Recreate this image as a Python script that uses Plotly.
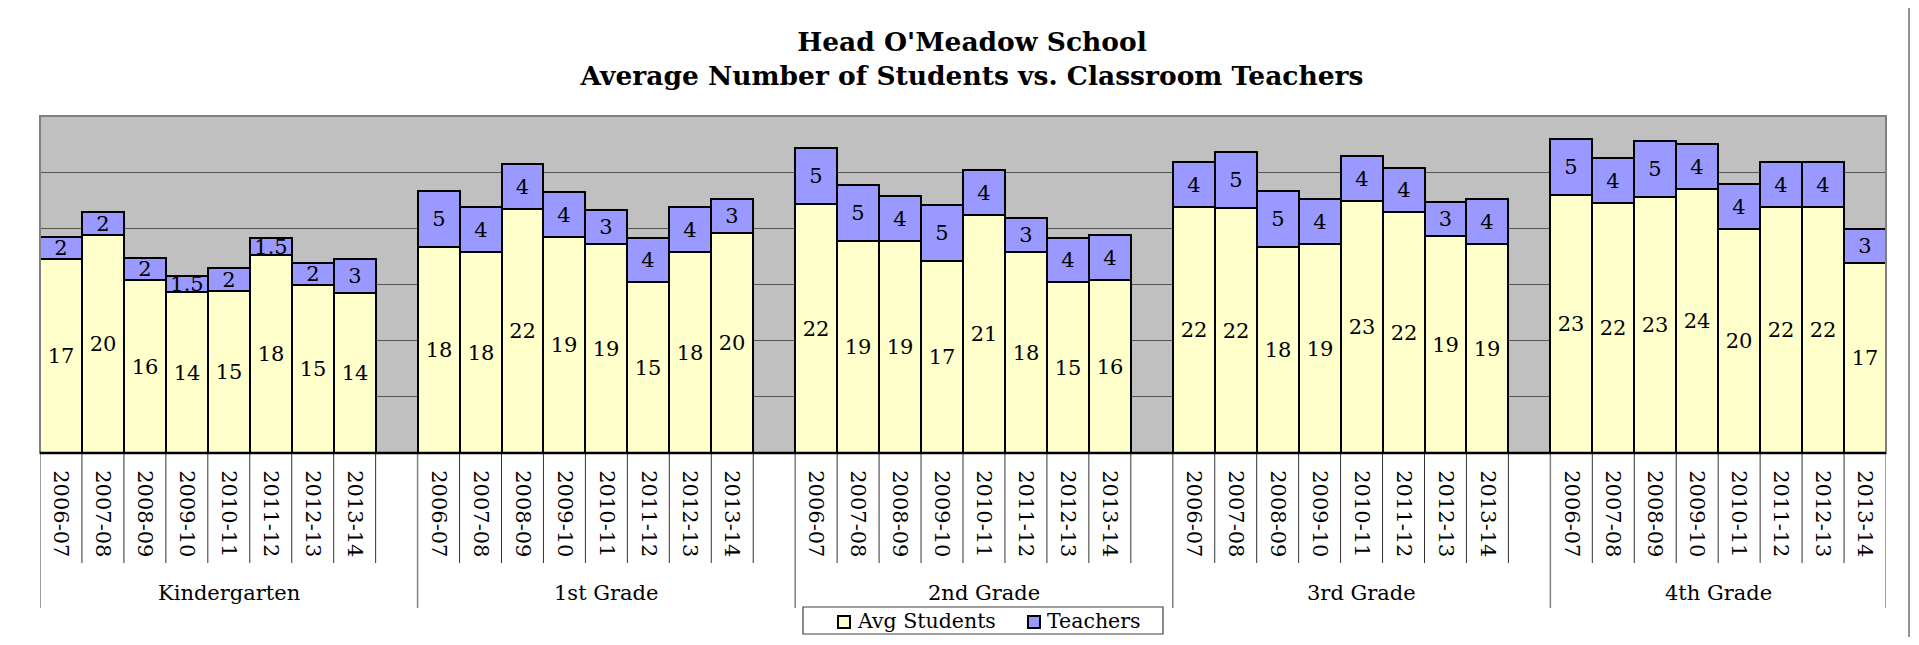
import plotly.graph_objects as go

# ---------------- data ----------------
groups = ["Kindergarten", "1st Grade", "2nd Grade", "3rd Grade", "4th Grade"]
years = ["2006-07", "2007-08", "2008-09", "2009-10", "2010-11", "2011-12", "2012-13", "2013-14"]

kinder_students = [17.23, 19.45, 15.38, 14.29, 14.43, 17.61, 14.94, 14.26]
grade1_students = [18.35, 17.91, 21.71, 19.25, 18.59, 15.18, 17.91, 19.60]
grade2_students = [22.16, 18.89, 18.89, 17.11, 21.18, 17.91, 15.18, 15.38]
grade3_students = [21.92, 21.77, 18.35, 18.65, 22.42, 21.41, 19.31, 18.65]
grade4_students = [22.96, 22.22, 22.75, 23.49, 19.93, 21.92, 21.92, 16.93]

kinder_student_labels = ["17", "20", "16", "14", "15", "18", "15", "14"]
grade1_student_labels = ["18", "18", "22", "19", "19", "15", "18", "20"]
grade2_student_labels = ["22", "19", "19", "17", "21", "18", "15", "16"]
grade3_student_labels = ["22", "22", "18", "19", "23", "22", "19", "19"]
grade4_student_labels = ["23", "22", "23", "24", "20", "22", "22", "17"]

kinder_teachers = [2, 2, 2, 1.5, 2, 1.5, 2, 3]
grade1_teachers = [5, 4, 4, 4, 3, 4, 4, 3]
grade2_teachers = [5, 5, 4, 5, 4, 3, 4, 4]
grade3_teachers = [4, 5, 5, 4, 4, 4, 3, 4]
grade4_teachers = [5, 4, 5, 4, 4, 4, 4, 3]

series_names = ["Avg Students", "Teachers"]
series_colors = ["#FFFFCC", "#9999FF"]

student_series = [kinder_students, grade1_students, grade2_students, grade3_students, grade4_students]
student_label_series = [kinder_student_labels, grade1_student_labels, grade2_student_labels,
                        grade3_student_labels, grade4_student_labels]
teacher_series = [kinder_teachers, grade1_teachers, grade2_teachers, grade3_teachers, grade4_teachers]

# ---------------- layout geometry (screen pixels) ----------------
OFF = 8                        # default page body margin
W, H = 1919 - 2 * OFF, 645 - 2 * OFF
PL, PR, PT, PB = 40, 1886, 116, 453          # plot area edges on screen
pw, ph = PR - PL, PB - PT
def px_x(p):
    return (p - PL) / pw
def px_y(p):
    return (PB - p) / ph

FONT = "DejaVu Serif"
slots_per_group = len(years) + 1  # one empty slot after each group

xs, stud, stud_lab, teach, ticktext = [], [], [], [], []
for g in range(len(groups)):
    for j, yr in enumerate(years):
        xs.append(g * slots_per_group + j)
        stud.append(student_series[g][j])
        stud_lab.append(student_label_series[g][j])
        teach.append(teacher_series[g][j])
        ticktext.append(yr)

n_slots = len(groups) * slots_per_group - 1
x_lo, x_hi = -0.5, n_slots - 0.5

fig = go.Figure()
fig.add_trace(go.Bar(
    x=xs, y=stud, name=series_names[0], width=1,
    marker=dict(color=series_colors[0], line=dict(color="black", width=2)),
    text=stud_lab, textposition="inside", insidetextanchor="middle", textangle=0,
    constraintext="none",
    textfont=dict(family=FONT, size=21, color="black"),
    hoverinfo="x+y", showlegend=False,
))
fig.add_trace(go.Bar(
    x=xs, y=teach, name=series_names[1], width=1,
    marker=dict(color=series_colors[1], line=dict(color="black", width=2)),
    text=[str(t) for t in teach], textposition="inside", insidetextanchor="middle", textangle=0,
    constraintext="none",
    textfont=dict(family=FONT, size=21, color="black"),
    hoverinfo="x+y", showlegend=False,
))

shapes = []
# plot frame
shapes.append(dict(type="rect", xref="paper", yref="paper", x0=0, x1=1, y0=0, y1=1,
                   line=dict(color="#808080", width=2), layer="above"))
# slot divider lines below axis
for s in range(n_slots + 1):
    xv = s - 0.5
    is_group_edge = (s % slots_per_group == 0) or s == n_slots
    shapes.append(dict(type="line", xref="x", yref="paper", x0=xv, x1=xv,
                       y0=0, y1=px_y(608) if is_group_edge else px_y(563),
                       line=dict(color="#808080" if is_group_edge else "#333333",
                                 width=1.5 if is_group_edge else 1)))
# bold category axis line
shapes.append(dict(type="line", xref="paper", yref="paper", x0=0, x1=1, y0=0, y1=0,
                   line=dict(color="black", width=2.5), layer="above"))
# outer chart border
shapes.append(dict(type="rect", xref="paper", yref="paper",
                   x0=px_x(6), x1=px_x(1909), y0=px_y(660), y1=px_y(5),
                   line=dict(color="#707070", width=1.5), layer="below"))

annotations = []
for g, name in enumerate(groups):
    start = g * slots_per_group - 0.5
    end = min(start + slots_per_group, x_hi)
    annotations.append(dict(x=(start + end) / 2, xref="x", y=px_y(593), yref="paper",
                            text=name, showarrow=False, xanchor="center", yanchor="middle",
                            font=dict(family=FONT, size=21, color="black")))

# legend box (drawn by hand to match the compact legend of the original)
shapes.append(dict(type="rect", xref="paper", yref="paper",
                   x0=px_x(803), x1=px_x(1163), y0=px_y(634), y1=px_y(607),
                   line=dict(color="#404040", width=1.2), fillcolor="white", layer="above"))
legend_square_x = [838, 1028]
legend_text_x = [855, 1045]
for name, color, sx, tx in zip(series_names, series_colors, legend_square_x, legend_text_x):
    shapes.append(dict(type="rect", xref="paper", yref="paper",
                       x0=px_x(sx), x1=px_x(sx + 12), y0=px_y(628), y1=px_y(616),
                       line=dict(color="black", width=2), fillcolor=color, layer="above"))
    annotations.append(dict(x=px_x(tx), xref="paper", y=px_y(621), yref="paper",
                            text=name, showarrow=False, xanchor="left", yanchor="middle",
                            font=dict(family=FONT, size=20.5, color="black")))

fig.update_layout(
    width=W, height=H,
    margin=dict(l=PL - OFF, r=W - (PR - OFF), t=PT - OFF, b=H - (PB - OFF), pad=0,
                autoexpand=False),
    paper_bgcolor="white", plot_bgcolor="#C0C0C0",
    barmode="stack", bargap=0,
    title=dict(text="<b>Head O'Meadow School<br>Average Number of Students vs. Classroom Teachers</b>",
               x=(972 - OFF) / W, xanchor="center", y=1 - (51 - OFF) / H, yanchor="middle",
               font=dict(family=FONT, size=26.5, color="black")),
    xaxis=dict(range=[x_lo, x_hi], tickvals=xs, ticktext=ticktext, tickangle=90,
               ticks="outside", ticklen=12, tickcolor="rgba(0,0,0,0)",
               tickfont=dict(family=FONT, size=21, color="black"),
               showgrid=False, zeroline=False, showline=False, automargin=False),
    yaxis=dict(range=[0, 30], dtick=5, showgrid=True, gridcolor="#555555", gridwidth=1,
               showticklabels=False, zeroline=False, showline=False, ticks="",
               automargin=False),
    shapes=shapes, annotations=annotations,
    showlegend=False,
)

fig.write_html("out.html")
